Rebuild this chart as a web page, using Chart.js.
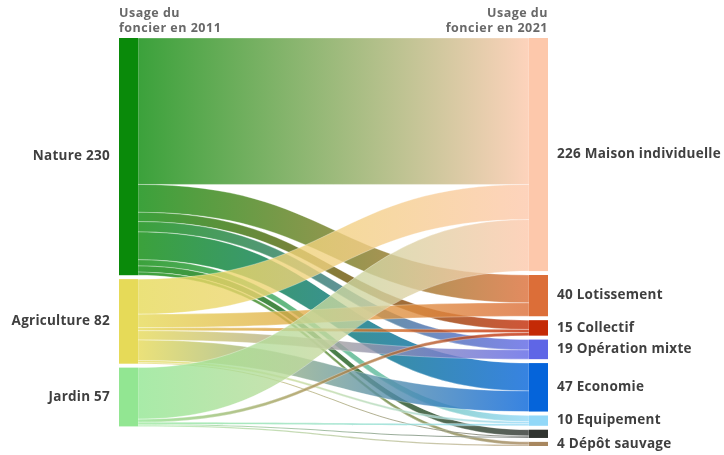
<!DOCTYPE html>
<html lang="fr">
<head>
<meta charset="UTF-8">
<meta name="viewport" content="width=device-width, initial-scale=1.0">
<title>Usage du foncier 2011 - 2021</title>
<script src="https://cdn.jsdelivr.net/npm/chart.js"></script>
<style>
    html, body {
        margin: 0;
        padding: 0;
        background: #fff;
    }
    .chart-container {
        width: 724px;
        height: 455px;
    }
</style>
</head>
<body>
<div class="chart-container">
    <canvas id="sankeyChart"></canvas>
</div>

<script>
    // 2011 (left column)
    const sourceNames = ['Nature', 'Agriculture', 'Jardin'];
    const sourceValues = [230, 82, 57];
    // 2021 (right column)
    const targetNames = ['Maison individuelle', 'Lotissement', 'Collectif', 'Opération mixte', 'Economie', 'Equipement', 'Autre', 'Dépôt sauvage'];
    const targetValues = [226, 40, 15, 19, 47, 10, 8, 4];
    const targetShowLabel = [true, true, true, true, true, true, false, true];
    // flows, one list per source, in target order
    const flowsNature = [142, 27, 9, 10, 27, 6, 6, 3];
    const flowsAgriculture = [34, 13, 3, 9, 20, 2, 1, 0];
    const flowsJardin = [50, 0, 3, 0, 0, 2, 1, 1];

    const sourceColors = ['#0a8a0a', '#e6da58', '#92e692'];
    const targetColors = ['#fdc8ab', '#dc6e38', '#c42a06', '#5f66e6', '#0564da', '#92d8f8', '#2f332f', '#a8875f'];

    const NODE_W = 19;   // px
    const GAP = 3.8;     // gap between nodes, in value units
    const LINK_ALPHA = 0.8;
    const yMax = targetValues.reduce((a, b) => a + b, 0) + GAP * (targetValues.length - 1);

    function rgba(hex, a) {
        const n = parseInt(hex.slice(1), 16);
        return 'rgba(' + (n >> 16) + ',' + ((n >> 8) & 255) + ',' + (n & 255) + ',' + a + ')';
    }

    function tops(values) {
        const out = [];
        let acc = 0;
        values.forEach(v => { out.push(acc); acc += v + GAP; });
        return out;
    }

    const sankeyPlugin = {
        id: 'sankey',
        afterDatasetsDraw(chart) {
            const ctx = chart.ctx;
            const x = chart.scales.x, y = chart.scales.y;
            const flows = [flowsNature, flowsAgriculture, flowsJardin];
            const srcTop = tops(sourceValues);
            const tgtTop = tops(targetValues);
            const xL = x.getPixelForValue(0), xR = x.getPixelForValue(1);
            const x0 = xL + NODE_W, x1 = xR - NODE_W;
            const xm = (x0 + x1) / 2;

            const srcOff = sourceValues.map(() => 0);
            const tgtOff = targetValues.map(() => 0);

            ctx.save();
            flows.forEach((row, s) => {
                row.forEach((v, t) => {
                    if (!v) return;
                    const sy0 = y.getPixelForValue(srcTop[s] + srcOff[s]);
                    const sy1 = y.getPixelForValue(srcTop[s] + srcOff[s] + v);
                    const ty0 = y.getPixelForValue(tgtTop[t] + tgtOff[t]);
                    const ty1 = y.getPixelForValue(tgtTop[t] + tgtOff[t] + v);
                    srcOff[s] += v;
                    tgtOff[t] += v;

                    const grad = ctx.createLinearGradient(x0, 0, x1, 0);
                    grad.addColorStop(0, rgba(sourceColors[s], LINK_ALPHA));
                    grad.addColorStop(1, rgba(targetColors[t], LINK_ALPHA));

                    ctx.beginPath();
                    ctx.moveTo(x0, sy0);
                    ctx.bezierCurveTo(xm, sy0, xm, ty0, x1, ty0);
                    ctx.lineTo(x1, ty1);
                    ctx.bezierCurveTo(xm, ty1, xm, sy1, x0, sy1);
                    ctx.closePath();
                    ctx.fillStyle = grad;
                    ctx.fill();
                    ctx.strokeStyle = 'rgba(255,255,255,0.45)';
                    ctx.lineWidth = 0.7;
                    ctx.stroke();
                });
            });

            // nodes
            sourceValues.forEach((v, i) => {
                const a = y.getPixelForValue(srcTop[i]), b = y.getPixelForValue(srcTop[i] + v);
                ctx.fillStyle = sourceColors[i];
                ctx.fillRect(xL, a, NODE_W, b - a);
            });
            targetValues.forEach((v, i) => {
                const a = y.getPixelForValue(tgtTop[i]), b = y.getPixelForValue(tgtTop[i] + v);
                ctx.fillStyle = targetColors[i];
                ctx.fillRect(x1, a, NODE_W, b - a);
            });

            // labels
            ctx.font = 'bold 13.5px "Open Sans", sans-serif';
            ctx.letterSpacing = '0.25px';
            ctx.fillStyle = '#3f3f3f';
            ctx.textBaseline = 'middle';
            ctx.textAlign = 'right';
            sourceValues.forEach((v, i) => {
                const c = y.getPixelForValue(srcTop[i] + v / 2);
                ctx.fillText(sourceNames[i] + ' ' + v, xL - 9, c);
            });
            ctx.textAlign = 'left';
            targetValues.forEach((v, i) => {
                if (!targetShowLabel[i]) return;
                const c = y.getPixelForValue(tgtTop[i] + v / 2);
                ctx.fillText(v + ' ' + targetNames[i], xR + 9, c);
            });

            // column headers
            const top = chart.chartArea.top;
            ctx.font = 'bold 12.5px "Open Sans", sans-serif';
            ctx.letterSpacing = '0.5px';
            ctx.fillStyle = '#686868';
            ctx.textBaseline = 'alphabetic';
            ctx.textAlign = 'left';
            ctx.fillText('Usage du', xL, top - 21.5);
            ctx.fillText('foncier en 2011', xL, top - 6.5);
            ctx.textAlign = 'right';
            ctx.fillText('Usage du', xR, top - 21.5);
            ctx.fillText('foncier en 2021', xR, top - 6.5);
            ctx.restore();
        }
    };

    const ctx = document.getElementById('sankeyChart').getContext('2d');
    new Chart(ctx, {
        type: 'scatter',
        data: { datasets: [{ data: [] }] },
        options: {
            responsive: true,
            maintainAspectRatio: false,
            animation: false,
            layout: { padding: { left: 119, right: 176, top: 38, bottom: 9 } },
            scales: {
                x: { type: 'linear', min: 0, max: 1, display: false },
                y: { type: 'linear', min: 0, max: yMax, reverse: true, display: false }
            },
            plugins: {
                legend: { display: false },
                tooltip: { enabled: false }
            }
        },
        plugins: [sankeyPlugin]
    });
</script>
</body>
</html>
